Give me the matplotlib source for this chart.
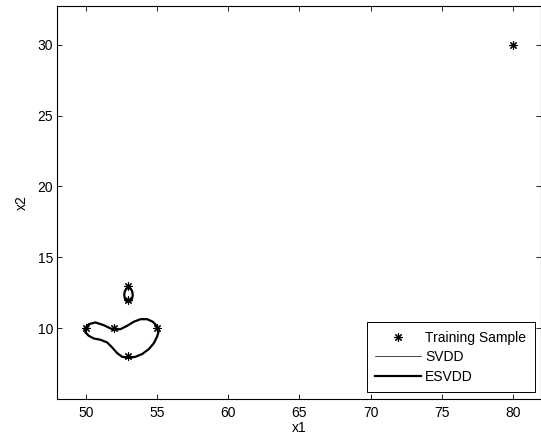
import numpy as np
import matplotlib
matplotlib.use("Agg")
import matplotlib.pyplot as plt

plt.rcParams['font.family'] = ['Liberation Sans', 'DejaVu Sans']
plt.rcParams['font.size'] = 10

# training samples
train_x1 = [50, 52, 55, 53, 53, 53, 80]
train_x2 = [10, 10, 10, 8, 12, 13, 30]

# boundary of the main cluster (closed)
blob_x1 = [49.93, 50.21, 50.68, 51.26, 51.73, 52.01, 52.44, 52.90, 53.37, 53.84,
           54.31, 54.71, 55.01, 55.13, 55.01, 54.78, 54.43, 53.96, 53.49, 53.02,
           52.55, 52.20, 51.85, 51.50, 51.03, 50.56, 50.21, 49.98, 49.93]
blob_x2 = [9.93, 10.28, 10.40, 10.21, 9.98, 9.88, 9.93, 10.16, 10.45, 10.63,
           10.63, 10.45, 10.12, 9.81, 9.41, 8.94, 8.52, 8.17, 7.98, 7.89,
           7.98, 8.24, 8.64, 8.99, 9.18, 9.27, 9.46, 9.69, 9.93]

# boundary around the two upper samples (closed)
oval_x1 = [53.00, 53.15, 53.26, 53.30, 53.26, 53.15, 53.00, 52.85, 52.74, 52.70,
           52.74, 52.85, 53.00]
oval_x2 = [12.85, 12.78, 12.60, 12.35, 12.10, 11.92, 11.85, 11.92, 12.10, 12.35,
           12.60, 12.78, 12.85]

fig = plt.figure(figsize=(5.41, 4.42), dpi=100)
ax = fig.add_axes([0.1059, 0.0973, 0.895, 0.8898])

ax.plot(train_x1, train_x2, linestyle='none', marker=(8, 2, 0), markersize=6,
        color='black', markeredgewidth=0.8, label='Training Sample')

ax.plot(blob_x1, blob_x2, color='black', linewidth=0.5, label='SVDD')
ax.plot(oval_x1, oval_x2, color='black', linewidth=0.5)
ax.plot(blob_x1, blob_x2, color='black', linewidth=1.6, label='ESVDD')
ax.plot(oval_x1, oval_x2, color='black', linewidth=1.6)

ax.set_xlim(48, 82)
ax.set_ylim(5, 32.75)
ax.set_xticks([50, 55, 60, 65, 70, 75, 80])
ax.set_yticks([10, 15, 20, 25, 30])
ax.tick_params(direction='in', length=3.5, width=0.6, top=True, right=True,
               labelsize=10)
ax.tick_params(axis='x', pad=5)
ax.tick_params(axis='y', pad=3)
for s in ax.spines.values():
    s.set_linewidth(0.8)

ax.set_xlabel('x1', labelpad=1)
ax.set_ylabel('x2', labelpad=6)

leg = ax.legend(loc='lower right', fancybox=False, edgecolor='black',
                framealpha=1, handlelength=3.3, handletextpad=0.3,
                borderpad=0.6, labelspacing=0.4)
leg.get_frame().set_linewidth(0.7)

fig.savefig('out.png', dpi=100)
